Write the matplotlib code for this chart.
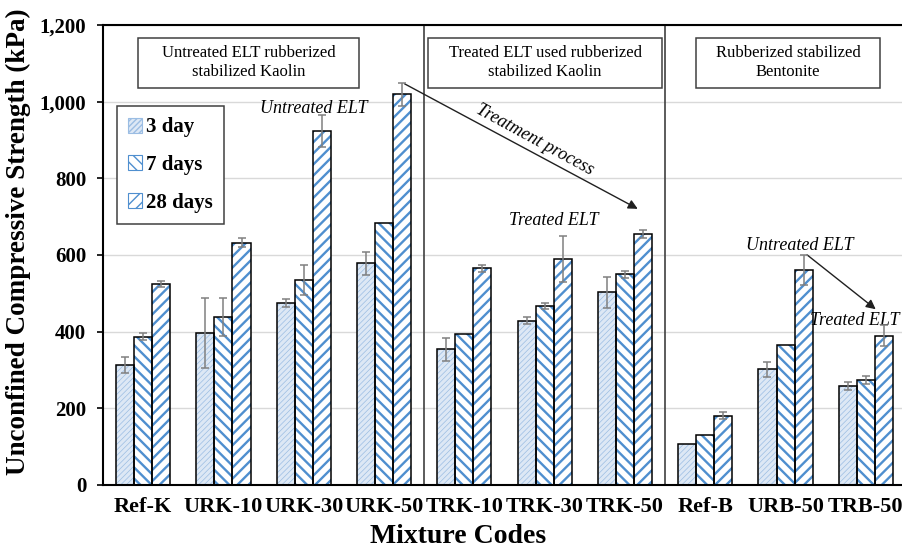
import numpy as np
import matplotlib
matplotlib.use("Agg")
import matplotlib.pyplot as plt
from matplotlib.patches import Patch, Rectangle
from matplotlib.ticker import FuncFormatter

codes = ['Ref-K', 'URK-10', 'URK-30', 'URK-50', 'TRK-10', 'TRK-30', 'TRK-50',
         'Ref-B', 'URB-50', 'TRB-50']
day3 = [313, 397, 474, 578, 354, 429, 503, 106, 302, 258]
day3_err = [21, 91, 10, 30, 30, 9, 40, 0, 20, 10]
day7 = [387, 439, 535, 683, 394, 467, 550, 130, 366, 274]
day7_err = [10, 50, 40, 0, 0, 9, 9, 0, 0, 10]
day28 = [524, 632, 923, 1019, 565, 590, 655, 181, 561, 390]
day28_err = [8, 12, 42, 29, 9, 60, 10, 10, 40, 28]
series_names = ['3 day', '7 days', '28 days']
group_titles = ['Untreated ELT rubberized\nstabilized Kaolin',
                'Treated ELT used rubberized\nstabilized Kaolin',
                'Rubberized stabilized\nBentonite']

plt.rcParams['font.family'] = ['Liberation Serif', 'DejaVu Serif']

BLUE = '#4f8fcf'
x = np.arange(len(codes))
w = 0.225

fig = plt.figure(figsize=(9.02, 5.52), dpi=100)
ax = fig.add_axes([103 / 902, 1 - 485 / 552, 803 / 902, 460 / 552])

styles = [
    # face, hatch, hatch width
    ('#dde8f5', '//////', 0.5),
    ('white', '\\\\\\', 1.7),
    ('white', '///', 1.7),
]
hatch_cols = ['#9bbde3', BLUE, BLUE]

for i, (vals, errs) in enumerate([(day3, day3_err), (day7, day7_err),
                                  (day28, day28_err)]):
    face, hatch, hlw = styles[i]
    xs = x + (i - 1) * w
    with plt.rc_context({'hatch.linewidth': hlw}):
        bars = ax.bar(xs, vals, w, color=face, edgecolor=hatch_cols[i],
                      hatch=hatch, linewidth=0, zorder=2)
    for b in bars:
        if hasattr(b, 'set_hatch_linewidth'):
            b.set_hatch_linewidth(hlw)
    ax.bar(xs, vals, w, fill=False, edgecolor='black', linewidth=1.1,
           zorder=3)
    idx = [k for k in range(len(vals)) if errs[k] > 0]
    ax.errorbar(xs[idx], np.array(vals)[idx], yerr=np.array(errs)[idx],
                fmt='none', ecolor='#808080', elinewidth=1.1, capsize=3,
                capthick=1.1, zorder=4)

ax.set_xlim(-0.5, 9.5)
ax.set_ylim(0, 1200)
ax.set_yticks(range(0, 1201, 200))
ax.yaxis.set_major_formatter(FuncFormatter(lambda v, p: f'{int(v):,}'))
ax.set_xticks(x)
ax.set_xticklabels(codes)
ax.tick_params(axis='x', length=0, pad=9, labelsize=16)
ax.tick_params(axis='y', direction='out', length=4, width=1.2, pad=8,
               labelsize=15)
for lab in ax.get_xticklabels() + ax.get_yticklabels():
    lab.set_fontweight('bold')

ax.grid(axis='y', color='#d9d9d9', linewidth=1, zorder=0)
ax.set_axisbelow(True)
ax.spines['right'].set_visible(False)
for s in ['left', 'bottom', 'top']:
    ax.spines[s].set_linewidth(1.5)

# group separators
for sx in [3.5, 6.5]:
    ax.plot([sx, sx], [0, 1200], color='#404040', linewidth=1.2, zorder=1)

# group title boxes
boxes = [(-0.06, 2.69), (3.55, 6.46), (6.89, 9.17)]
for (x0, x1), title in zip(boxes, group_titles):
    ax.add_patch(Rectangle((x0, 1036), x1 - x0, 130, fill=False,
                           edgecolor='#404040', linewidth=1.1, zorder=5))
    ax.text((x0 + x1) / 2, 1101, title, ha='center', va='center',
            fontsize=12, linespacing=1.25, zorder=6)

# annotations
ax.text(2.13, 983, 'Untreated ELT', ha='center', va='center', fontsize=13,
        style='italic')
ax.annotate('', xy=(6.19, 717), xytext=(3.225, 1050),
            arrowprops=dict(arrowstyle='-|>', color='#202020', lw=1,
                            mutation_scale=14))
ax.text(4.88, 900, 'Treatment process', ha='center', va='center',
        fontsize=13, style='italic', rotation=-28.5)
ax.text(5.11, 689, 'Treated ELT', ha='center', va='center', fontsize=13,
        style='italic')
ax.text(8.18, 624, 'Untreated ELT', ha='center', va='center', fontsize=13,
        style='italic')
ax.annotate('', xy=(9.15, 454), xytext=(8.24, 605),
            arrowprops=dict(arrowstyle='-|>', color='#202020', lw=1,
                            mutation_scale=14))
ax.text(8.3, 430, 'Treated ELT', ha='left', va='center', fontsize=13,
        style='italic', clip_on=False)

# legend
handles = []
for i in range(3):
    face, hatch, hlw = styles[i]
    handles.append(Patch(facecolor=face, edgecolor=hatch_cols[i],
                         hatch=hatch, linewidth=0.8, label=series_names[i]))
leg = ax.legend(handles=handles, loc='upper left',
                bbox_to_anchor=(0.0174, 0.824), borderaxespad=0,
                fancybox=False, edgecolor='#404040', framealpha=1,
                handlelength=0.65, handleheight=0.75, handletextpad=0.2,
                labelspacing=0.85, borderpad=0.55,
                prop={'size': 15, 'weight': 'bold'})
leg.get_frame().set_linewidth(1.1)

ax.set_xlabel('Mixture Codes', fontsize=20, fontweight='bold')
ax.xaxis.set_label_coords(0.442, -0.085)
ax.set_ylabel('Unconfined Compressive Strength (kPa)', fontsize=19.5,
              fontweight='bold')
ax.yaxis.set_label_coords(-0.09, 0.528)

fig.savefig('out.png', dpi=100)
